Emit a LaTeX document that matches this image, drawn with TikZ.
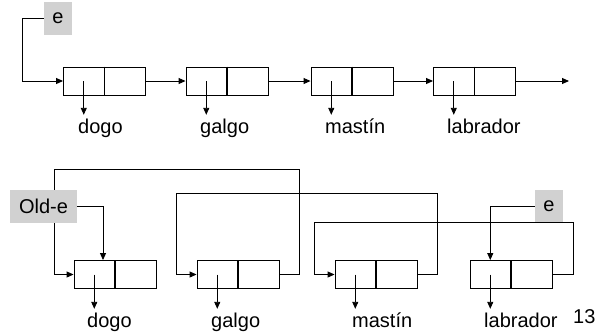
\documentclass[tikz,border=0pt]{standalone}
\usepackage{fontspec}
\setmainfont{Liberation Sans}
\usetikzlibrary{arrows.meta,calc,backgrounds}

\tikzset{
  listnode/.style={draw=black, line width=0.9bp, minimum width=82bp, minimum height=28bp, inner sep=0pt},
  divider/.style={line width=1.8bp},
  link/.style={line width=0.9bp, -{Triangle[length=7bp,width=6bp]}},
  varbox/.style={fill=gray!36, inner sep=0pt, minimum height=33bp, font=\fontsize{20bp}{24bp}\selectfont},
  lbl/.style={anchor=base west, inner xsep=0pt, inner ysep=4bp, text height=14bp, text depth=4bp,
              font=\fontsize{20bp}{24bp}\selectfont}
}

\begin{document}
\begin{tikzpicture}[x=1bp, y=-1bp]
\useasboundingbox (0,0) rectangle (597,335);

% ---------- first list: e -> dogo -> galgo -> mastin -> labrador ----------
\node[listnode] (a1) at (104.5,81) {};
\node[listnode] (a2) at (227,81) {};
\node[listnode] (a3) at (352,81) {};
\node[listnode] (a4) at (474.5,81) {};
\foreach \n in {a1,a2,a3,a4} {
  \draw[divider] (\n.north) -- (\n.south);
  \coordinate (\n v) at ($(\n.west)!0.5!(\n.center)$);
}
\node[varbox, minimum width=28bp] (e1) at (58,18.5) {e};
\coordinate (aend) at (569,81);

\node[lbl] (la1) at (78,133) {dogo};
\node[lbl] (la2) at (200,133) {galgo};
\node[lbl] (la3) at (325,133) {mastín};
\node[lbl] (la4) at (447,133) {labrador};

\begin{scope}[on background layer]
  \draw[link] (e1.west) -- ++(-21,0) |- (a1.west);
  \draw[link] (a1.east) -- (a2.west);
  \draw[link] (a2.east) -- (a3.west);
  \draw[link] (a3.east) -- (a4.west);
  \draw[link] (a4.east) -- (aend);
  \foreach \i in {1,2,3,4}
    \draw[link] (a\i v) -- (a\i v |- la\i.north);
\end{scope}

% ---------- reversed list: Old-e, e ----------
\node[listnode] (b1) at (115,274.5) {};
\node[listnode] (b2) at (238,274.5) {};
\node[listnode] (b3) at (376,274.5) {};
\node[listnode] (b4) at (511,274.5) {};
\foreach \n in {b1,b2,b3,b4} {
  \draw[divider] (\n.north) -- (\n.south);
  \coordinate (\n v) at ($(\n.west)!0.5!(\n.center)$);
}
\node[varbox, minimum width=67bp] (olde) at (43.5,206.5) {Old-e};
\node[varbox, minimum width=28bp, minimum height=32bp] (e2) at (549,206) {e};

\node[lbl] (lb1) at (87,327) {dogo};
\node[lbl] (lb2) at (211,327) {galgo};
\node[lbl] (lb3) at (352,327) {mastín};
\node[lbl] (lb4) at (484,327) {labrador};
\node[lbl] (page) at (573,323) {13};

\begin{scope}[on background layer]
  % Old-e still points at dogo
  \draw[link] (olde.east) -| ($(b1.north)+(-12,0)$);
  % galgo -> dogo
  \draw[link] (b2.east) -- (299,274.5) -- (299,169) -- (54,169) |- (b1.west);
  % mastin -> galgo
  \draw[link] (b3.east) -- (437,274.5) -- (437,193) -- (176,193) |- (b2.west);
  % labrador -> mastin
  \draw[link] (b4.east) -- (573,274.5) -- (573,222) -- (314,222) |- (b3.west);
  % e points at labrador
  \draw[link] (e2.west) -| (b4v |- b4.north);
  \foreach \i in {1,2,3,4}
    \draw[link] (b\i v) -- (b\i v |- lb\i.north);
\end{scope}
\end{tikzpicture}
\end{document}
